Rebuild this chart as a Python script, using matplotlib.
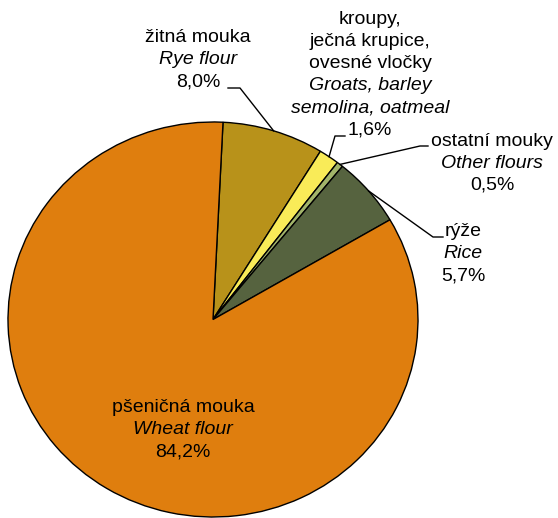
import numpy as np
import matplotlib
matplotlib.use("Agg")
import matplotlib.pyplot as plt

# shares in %, clockwise from the top
names_cz = ["žitná mouka", "kroupy,\nječná krupice,\novesné vločky", "ostatní mouky", "rýže", "pšeničná mouka"]
names_en = ["Rye flour", "Groats, barley\nsemolina, oatmeal", "Other flours", "Rice", "Wheat flour"]
values = [8.0, 1.6, 0.5, 5.7, 84.2]
colors = ["#B8921A", "#F9EB58", "#A2B46A", "#56633F", "#DF7E0E"]

plt.rcParams['font.family'] = ['Liberation Sans', 'DejaVu Sans']

W, H = 558, 518
cx, cy, rx, ry = 213, 319.5, 205, 197.5

fig = plt.figure(figsize=(W / 100, H / 100), dpi=100)
ax = fig.add_axes([0, 0, 1, 1])

ax.pie(values, colors=colors, startangle=87.2, counterclock=False,
       wedgeprops=dict(edgecolor="black", linewidth=1.0))
ax.set_aspect("auto")
ax.set_xlim(-cx / rx, (W - cx) / rx)
ax.set_ylim(-(H - cy) / ry, cy / ry)
ax.axis("off")


def px(x, y):
    return (x - cx) / rx, (cy - y) / ry


def label(x, y, i, pct_y=None):
    # czech name (upright), english name (italic), percent
    cz = names_cz[i].split("\n")
    en = names_en[i].split("\n")
    lines = [(t, "normal") for t in cz] + [(t, "italic") for t in en]
    lines.append((("%.1f%%" % values[i]).replace(".", ","), "normal"))
    for k, (t, st) in enumerate(lines):
        ax.text(*px(x, y + 22 * k), t, ha="center", va="center",
                fontsize=14, style=st, color="black")


label(198, 38, 0)
label(370, 20, 1)
label(492, 141, 2)
label(463, 232, 3)
label(183, 408, 4)

# leader lines: text end -> elbow -> wedge edge at mid angle
ang = 87.2 - (np.cumsum(values) - np.array(values) / 2) * 3.6
leaders = [(0, (228, 88), (240, 88)),
           (1, (345, 136), (335, 136)),
           (2, (428, 146), (420, 146)),
           (3, (443, 237), (433, 237))]
for i, p0, p1 in leaders:
    a = np.deg2rad(ang[i])
    x0, y0 = px(*p0)
    x1, y1 = px(*p1)
    ax.plot([x0, x1, np.cos(a)], [y0, y1, np.sin(a)], color="black", lw=1.0)

fig.savefig("out.png", dpi=100)
